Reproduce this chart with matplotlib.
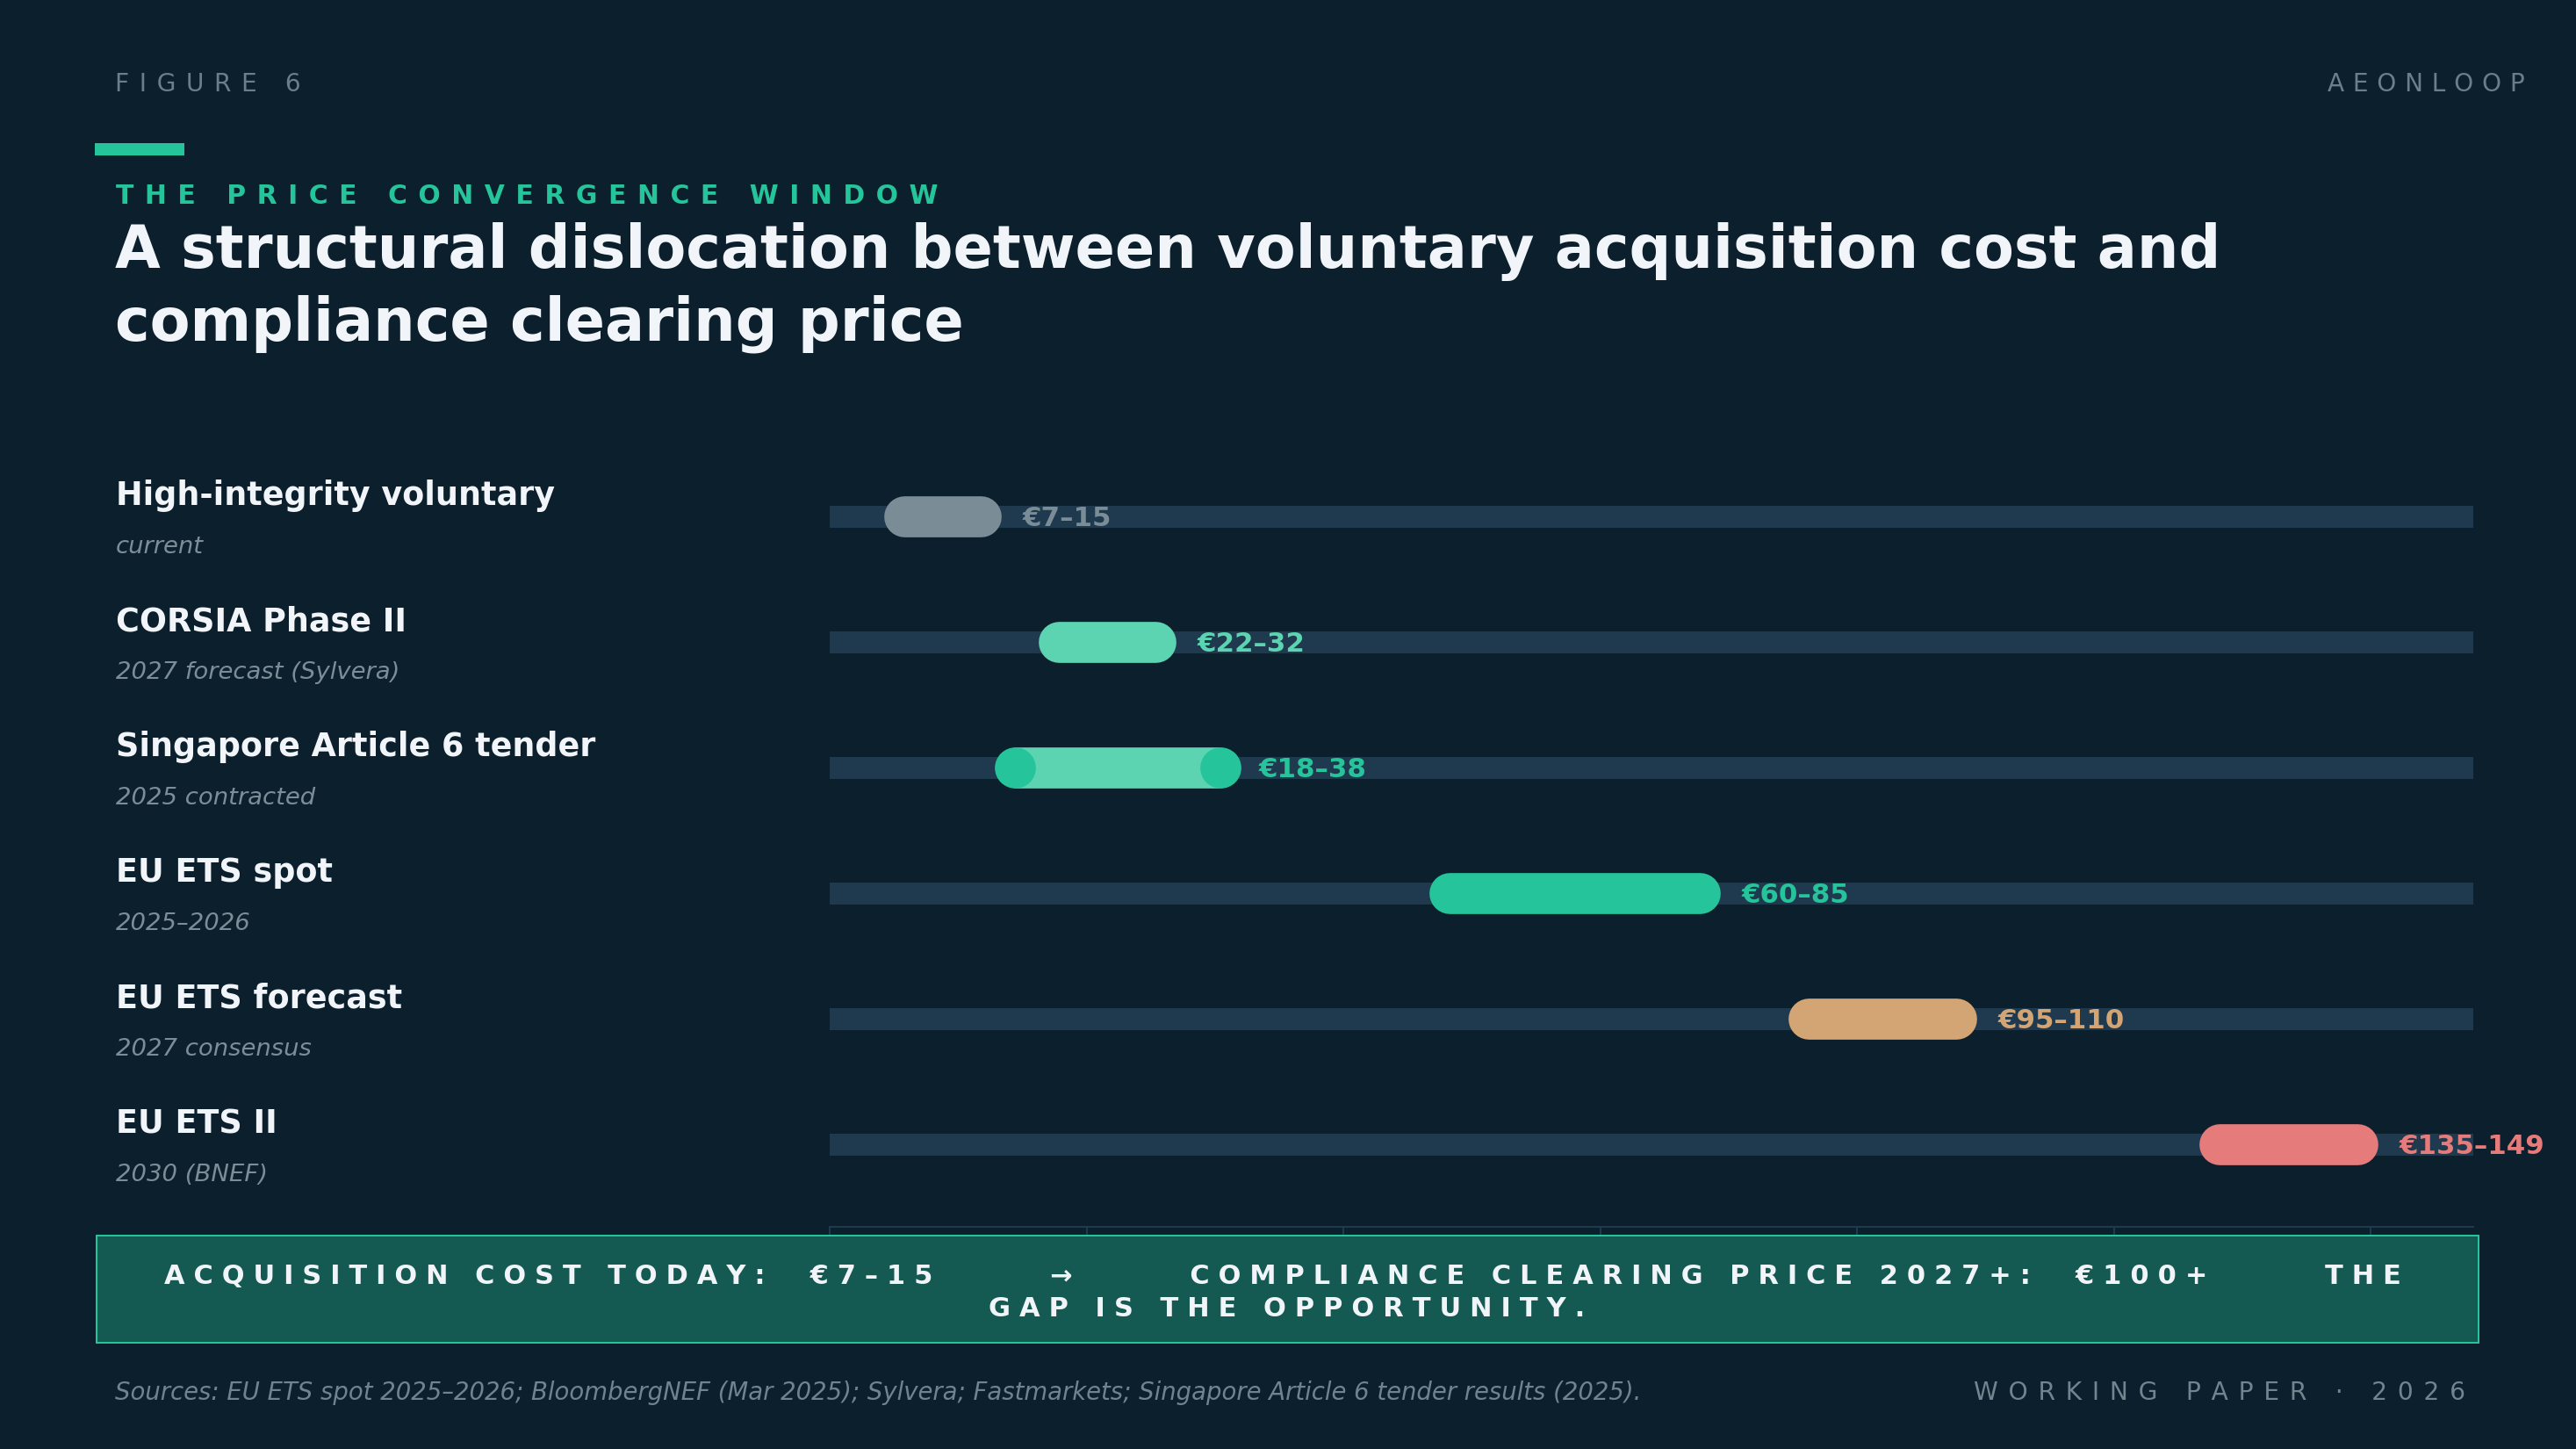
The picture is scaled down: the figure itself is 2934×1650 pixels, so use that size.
import matplotlib
matplotlib.use('Agg')
import matplotlib.pyplot as plt
import matplotlib.transforms as mtransforms
from matplotlib.patches import Rectangle

# canvas
W, H, DPI = 2934, 1650, 200
PT = 72 / DPI  # pixels -> points

BG = '#0b1f2c'
TRACK = '#1f3a4f'
TEAL = '#26c49a'
WHITE = '#f1f5f9'
GREY = '#6f8490'

# data
names = ['High-integrity voluntary', 'CORSIA Phase II', 'Singapore Article 6 tender',
         'EU ETS spot', 'EU ETS forecast', 'EU ETS II']
subs = ['current', '2027 forecast (Sylvera)', '2025 contracted',
        '2025\u20132026', '2027 consensus', '2030 (BNEF)']
lows = [7, 22, 18, 60, 95, 135]
highs = [15, 32, 38, 85, 110, 149]
contracted = [False, False, True, False, False, False]
bar_colors = ['#7a8d96', '#5cd4b1', '#5cd4b1', '#26c49a', '#d4a574', '#e57b7b']
label_colors = ['#7a8d96', '#5cd4b1', '#26c49a', '#26c49a', '#d4a574', '#e57b7b']
x_max = 160
ticks = [0, 25, 50, 75, 100, 125, 150]

plt.rcParams['font.family'] = ['DejaVu Sans']


def fx(px):
    return px / W


def fy(py):
    return 1 - py / H


def spaced(s, sep):
    # fake css letter-spacing with unicode spaces
    return sep.join(s)


SP_WIDE = '\u2005\u2006'
SP_MID = '\u2004'
SP_LOGO = '\u2005\u200a'

fig = plt.figure(figsize=(W / DPI, H / DPI), dpi=DPI, facecolor=BG)

# header
fig.text(fx(131), fy(104), spaced('FIGURE 6', SP_WIDE), fontsize=10.1, color='#6b7f8a', va='baseline')
fig.text(fx(2876), fy(104), spaced('AEONLOOP', SP_LOGO), fontsize=10.1, color='#6b7f8a',
         va='baseline', ha='right')
fig.add_artist(Rectangle((fx(108), fy(177)), (210 - 108) / W, 14 / H,
                         transform=fig.transFigure, color=TEAL, lw=0))
fig.text(fx(132), fy(232), spaced('THE PRICE CONVERGENCE WINDOW', SP_WIDE), fontsize=10.75,
         weight='bold', color=TEAL, va='baseline')
fig.text(fx(131), fy(305), 'A structural dislocation between voluntary acquisition cost and',
         fontsize=24.1, weight='bold', color=WHITE, va='baseline')
fig.text(fx(131), fy(387), 'compliance clearing price',
         fontsize=24.1, weight='bold', color=WHITE, va='baseline')

# range chart
ax_top, ax_bot = 516.8, 1397
ax = fig.add_axes([fx(945), fy(ax_bot), (2817 - 945) / W, (ax_bot - ax_top) / H])
ax.set_facecolor('none')
ax.set_xlim(0, x_max)
ax.set_ylim(5.655, -0.5)

rows = list(range(len(names)))
ax.barh(rows, x_max, height=24.7 / 143, left=0, color=TRACK, zorder=1)

for i in rows:
    ax.plot([lows[i] + 0.3, highs[i] - 0.3], [i, i], color=bar_colors[i], lw=46.7 * PT,
            solid_capstyle='round', zorder=2)
    if contracted[i]:
        ax.plot([lows[i], highs[i]], [i, i], 'o', color=TEAL, ms=46.7 * PT, mew=0, zorder=3)
    ax.annotate(f'\u20ac{lows[i]}\u2013{highs[i]}', xy=(highs[i], i),
                xytext=(44 * PT, -11 * PT), textcoords='offset points',
                fontsize=11.1, weight='bold', color=label_colors[i],
                ha='left', va='baseline', zorder=4)

# row labels on the left, in figure x / data y
trans = mtransforms.blended_transform_factory(fig.transFigure, ax.transData)
for i in rows:
    ax.annotate(names[i], xy=(fx(132), i), xycoords=trans, xytext=(0, 13 * PT),
                textcoords='offset points', fontsize=13.15, weight='bold', color=WHITE,
                va='baseline', annotation_clip=False)
    ax.annotate(subs[i], xy=(fx(132), i), xycoords=trans, xytext=(0, -42 * PT),
                textcoords='offset points', fontsize=9.9, style='italic', color='#7b8e98',
                va='baseline', annotation_clip=False)

for s in ['top', 'left', 'right']:
    ax.spines[s].set_visible(False)
ax.spines['bottom'].set_color(TRACK)
ax.spines['bottom'].set_linewidth(2 * PT)
ax.set_xticks(ticks)
ax.set_yticks([])
ax.tick_params(axis='x', length=10 * PT, width=2 * PT, color=TRACK, labelbottom=False)

# callout box
fig.add_artist(Rectangle((fx(110), fy(1529)), (2823 - 110) / W, (1529 - 1407) / H,
                         transform=fig.transFigure, facecolor='#155a52',
                         edgecolor=TEAL, lw=2 * PT, zorder=10))
gap = ' ' * 6
line1 = ('ACQUISITION COST TODAY:  \u20ac7\u201315' + gap + '\u2192' + gap +
         'COMPLIANCE CLEARING PRICE 2027+:  \u20ac100+' + gap + 'THE')
line2 = 'GAP IS THE OPPORTUNITY.'
fig.text(fx(1461), fy(1462), spaced(line1, SP_MID), fontsize=10.93, weight='bold', color=WHITE,
         ha='center', va='baseline', zorder=11)
fig.text(fx(1466), fy(1499), spaced(line2, SP_MID), fontsize=10.97, weight='bold', color=WHITE,
         ha='center', va='baseline', zorder=11)

# footer
fig.text(fx(131), fy(1594),
         'Sources: EU ETS spot 2025\u20132026; BloombergNEF (Mar 2025); Sylvera; Fastmarkets; '
         'Singapore Article 6 tender results (2025).',
         fontsize=9.93, style='italic', color=GREY, va='baseline')
fig.text(fx(2808), fy(1594), spaced('WORKING PAPER \u00b7 2026', SP_WIDE), fontsize=10.15,
         color='#71858f', va='baseline', ha='right')

fig.savefig('out.png', dpi=DPI, facecolor=BG)
